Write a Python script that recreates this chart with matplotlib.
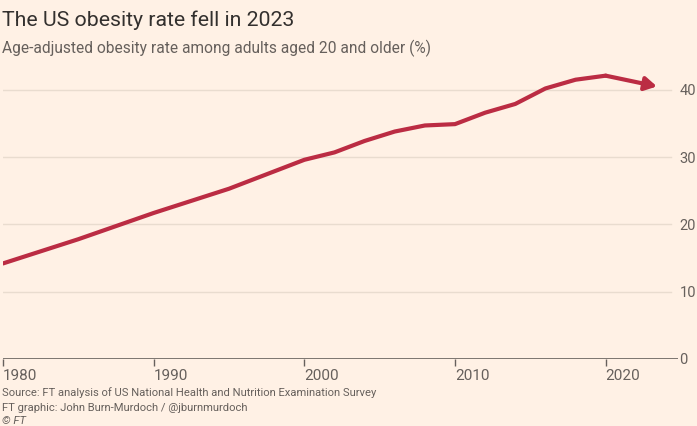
import matplotlib
matplotlib.use("Agg")
import matplotlib.pyplot as plt

years = [1980, 1985, 1990, 1995, 2000, 2002, 2004, 2006, 2008, 2010, 2012, 2014, 2016, 2018, 2020]
rate = [14.2, 17.8, 21.7, 25.3, 29.6, 30.7, 32.4, 33.8, 34.7, 34.9, 36.6, 37.9, 40.2, 41.5, 42.1]
end_year = 2023.4
end_rate = 40.5

x_ticks = [1980, 1990, 2000, 2010, 2020]
y_ticks = [0, 10, 20, 30, 40]

title = "The US obesity rate fell in 2023"
subtitle = "Age-adjusted obesity rate among adults aged 20 and older (%)"
footer = ["Source: FT analysis of US National Health and Nutrition Examination Survey",
          "FT graphic: John Burn-Murdoch / @jburnmurdoch"]

BG = "#fff1e5"
LINE = "#bb2c43"
GRID = "#e9dccf"
AXIS = "#66605c"
TXT = "#33302e"
SUB = "#66605c"

plt.rcParams['font.family'] = ['Roboto', 'DejaVu Sans']

fig = plt.figure(figsize=(6.97, 4.26), dpi=100, facecolor=BG)
ax = fig.add_axes([3/697, 67/426, 675/697, 0.6951])
ax.set_facecolor(BG)
ax.set_xlim(1980, 2024.8)
ax.set_ylim(0, 44)

for s in ax.spines.values():
    s.set_visible(False)
ax.axhline(0, color=AXIS, lw=1.2, zorder=2)
for yv in y_ticks[1:]:
    ax.axhline(yv, xmax=0.99, color=GRID, lw=1, zorder=1)

ax.plot(years, rate, color=LINE, lw=3, solid_capstyle='round', solid_joinstyle='round', zorder=3)
ax.annotate("", xy=(end_year, end_rate), xytext=(years[-1], rate[-1]),
            arrowprops=dict(arrowstyle="-|>,head_length=0.7,head_width=0.4", color=LINE, lw=3,
                            shrinkA=0, shrinkB=0, joinstyle='round', capstyle='round'), zorder=3)

ax.set_xticks(x_ticks)
ax.set_xticklabels([str(v) for v in x_ticks], ha='left')
ax.tick_params(axis='x', length=5, width=1, color=AXIS, labelsize=11, labelcolor=SUB, pad=2)
ax.set_yticks(y_ticks)
ax.yaxis.tick_right()
ax.tick_params(axis='y', length=0, labelsize=10.5, labelcolor=SUB, pad=1)

fig.text(2/697, 1 - 20/426, title, fontsize=15.3, color=TXT, va='center', ha='left')
fig.text(2/697, 1 - 48/426, subtitle, fontsize=11.2, color=SUB, va='center', ha='left')
fig.text(2/697, 1 - 393/426, footer[0], fontsize=8.1, color=SUB, va='center', ha='left')
fig.text(2/697, 1 - 408/426, footer[1], fontsize=8.1, color=SUB, va='center', ha='left')
fig.text(2/697, 1 - 421/426, "© FT", fontsize=8.1, color=SUB, va='center', ha='left', style='italic')

fig.savefig("out.png", dpi=100, facecolor=BG)
